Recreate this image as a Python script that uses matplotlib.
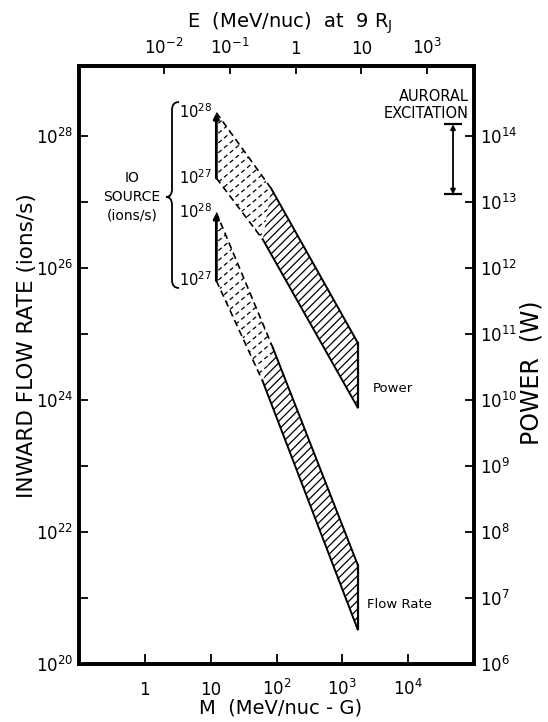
import numpy as np
import matplotlib
matplotlib.use('Agg')
import matplotlib.pyplot as plt
from matplotlib.patches import Polygon, PathPatch
from matplotlib.path import Path
from matplotlib.lines import Line2D

plt.rcParams['font.family'] = 'DejaVu Sans'
plt.rcParams['mathtext.default'] = 'regular'
plt.rcParams['hatch.linewidth'] = 0.9

# band edges: left point, end of the dashed (extrapolated) part, right point
power_upper_M = [12.2, 83, 1710]
power_upper_P = [2.25e14, 1.6e13, 7.4e10]
power_lower_M = [12.2, 62, 1710]
power_lower_P = [2.3e13, 2.7e12, 7.7e9]

flow_upper_M = [12.2, 88, 1710]
flow_upper_F = [6.9e26, 6.2e24, 3.2e21]
flow_lower_M = [12.2, 62, 1710]
flow_lower_F = [6.4e25, 1.9e24, 3.35e20]

source_labels = ['$10^{28}$', '$10^{27}$']

# auroral excitation range (W) and where it is drawn
auroral_M = 4.8e4
auroral_P = [1.3e13, 1.5e14]

M_ticks = [1, 10, 1e2, 1e3, 1e4]
M_labels = ['1', '10', '$10^2$', '$10^3$', '$10^4$']
E_ticks = [1e-2, 1e-1, 1, 10, 100]
E_labels = ['$10^{-2}$', '$10^{-1}$', '1', '10', '$10^3$']
E_per_M = 10**-2.29

flow_ticks = [10.0**k for k in range(20, 29)]
flow_labels = ['$10^{%d}$' % k if k % 2 == 0 else '' for k in range(20, 29)]
power_ticks = [10.0**k for k in range(6, 15)]
power_labels = ['$10^{%d}$' % k for k in range(6, 15)]

W, H = 548, 722
fig = plt.figure(figsize=(W / 100, H / 100), dpi=100)
ax = fig.add_axes([79 / W, 58 / H, 395 / W, 598 / H])
ax.set_xscale('log')
ax.set_yscale('log')
ax.set_xlim(0.1, 1e5)
ax.set_ylim(1e20, 10**29.06)

ax2 = ax.twinx()
ax2.set_yscale('log')
ax2.set_ylim(1e6, 10**15.06)

for a in (ax, ax2):
    for s in a.spines.values():
        s.set_linewidth(2.6)

ax.set_xticks(M_ticks, M_labels, va='baseline')
ax.minorticks_off()
ax.set_yticks(flow_ticks, flow_labels)
ax2.set_yticks(power_ticks, power_labels)
ax2.minorticks_off()
ax.tick_params(axis='x', direction='in', length=7, width=1.3, labelsize=12, pad=22)
ax.tick_params(axis='y', direction='in', length=6.5, width=1.3, labelsize=12, pad=4)
ax2.tick_params(axis='y', direction='in', length=6.5, width=1.3, labelsize=12, pad=4)

top = ax.secondary_xaxis('top', functions=(lambda m: m * E_per_M, lambda e: e / E_per_M))
top.set_xticks(E_ticks, E_labels)
top.minorticks_off()
top.tick_params(direction='in', length=6, width=1.3, labelsize=12, pad=6)
top.spines['top'].set_linewidth(2.6)


def dashed_hatch(patch, spacing=0.075, angle=40):
    # dashed hatch lines laid out in inches, clipped to the band outline
    t = np.tan(np.radians(angle))
    step = spacing / np.cos(np.radians(angle))
    xs = np.array([0, W / 100])
    for c in np.arange(-12, 10, step):
        ln = Line2D(xs, xs * t + c, transform=fig.dpi_scale_trans,
                    ls=(0, (3.5, 2.5)), lw=0.9, color='k')
        ln.set_clip_path(patch)
        ax.add_line(ln)


def band(a, um, uv, lm, lv):
    dashed = Polygon([(um[0], uv[0]), (um[1], uv[1]), (lm[1], lv[1]), (lm[0], lv[0])],
                     closed=True, fill=False, lw=0, transform=a.transData)
    a.add_patch(dashed)
    dashed_hatch(dashed)
    solid = Polygon([(um[1], uv[1]), (um[2], uv[2]), (lm[2], lv[2]), (lm[1], lv[1])],
                    closed=True, fill=False, lw=0, ec='k', hatch='////')
    a.add_patch(solid)
    # outline: dashed where extrapolated, solid elsewhere
    a.plot(um[:2], uv[:2], color='k', lw=1.2, ls=(0, (4, 2.5)))
    a.plot(lm[:2], lv[:2], color='k', lw=1.2, ls=(0, (4, 2.5)))
    a.plot(um[1:], uv[1:], color='k', lw=1.4)
    a.plot(lm[1:], lv[1:], color='k', lw=1.4)
    a.plot([um[2], lm[2]], [uv[2], lv[2]], color='k', lw=1.6)
    a.annotate('', xy=(um[0], uv[0]), xytext=(lm[0], lv[0]),
               arrowprops=dict(arrowstyle='-|>', color='k', lw=2.0,
                               mutation_scale=8, shrinkA=0, shrinkB=0))
    for lab, v in zip(source_labels, (uv[0], lv[0])):
        a.annotate(lab, xy=(um[0], v), xytext=(-3, -4), textcoords='offset points',
                   ha='right', va='baseline', fontsize=10.5)


band(ax2, power_upper_M, power_upper_P, power_lower_M, power_lower_P)
band(ax, flow_upper_M, flow_upper_F, flow_lower_M, flow_lower_F)

ax2.annotate('Power', xy=(power_lower_M[-1], power_lower_P[-1]), xytext=(11, 14),
             textcoords='offset points', ha='left', va='center', fontsize=9.5)
ax.annotate('Flow Rate', xy=(flow_lower_M[-1], flow_lower_F[-1]), xytext=(7, 18),
            textcoords='offset points', ha='left', va='center', fontsize=9.5)

# auroral excitation range on the power scale
ax2.annotate('', xy=(auroral_M, auroral_P[1]), xytext=(auroral_M, auroral_P[0]),
             arrowprops=dict(arrowstyle='<|-|>', color='k', lw=1.3,
                             mutation_scale=7, shrinkA=0, shrinkB=0))
ax2.plot([auroral_M] * 2, auroral_P, ls='', marker='_', ms=13, mew=1.6, color='k')
fig.text(469 / W, 1 - 105 / H, 'AURORAL\nEXCITATION', ha='right', va='center',
         multialignment='right', fontsize=10.5, linespacing=1.15)

# Io source brace and caption (figure pixels, y downwards)
px = lambda x, y: (x / 100, (H - y) / 100)
verts = [px(179, 102), px(172, 102), px(172, 110), px(172, 189), px(172, 197),
         px(166, 197), px(172, 197), px(172, 205), px(172, 280), px(172, 288),
         px(179, 288)]
codes = [Path.MOVETO, Path.CURVE3, Path.CURVE3, Path.LINETO, Path.CURVE3,
         Path.CURVE3, Path.CURVE3, Path.CURVE3, Path.LINETO, Path.CURVE3, Path.CURVE3]
fig.add_artist(PathPatch(Path(verts, codes), fill=False, lw=1.3, ec='k',
                         transform=fig.dpi_scale_trans))
fig.text(132 / W, 1 - 197 / H, 'IO\nSOURCE\n(ions/s)', ha='center', va='center',
         fontsize=10, linespacing=1.45)

fig.text(27 / W, 1 - 346 / H, 'INWARD FLOW RATE (ions/s)', rotation=90,
         ha='center', va='center', fontsize=15.5)
fig.text(532 / W, 1 - 373 / H, 'POWER  (W)', rotation=90,
         ha='center', va='center', fontsize=17)
fig.text(281 / W, 1 - 708 / H, 'M  (MeV/nuc - G)', ha='center', va='center', fontsize=14)
fig.text(290 / W, 1 - 23 / H, 'E  (MeV/nuc)  at  9 R$_J$', ha='center', va='center',
         fontsize=14)

fig.savefig('out.png', dpi=100)
